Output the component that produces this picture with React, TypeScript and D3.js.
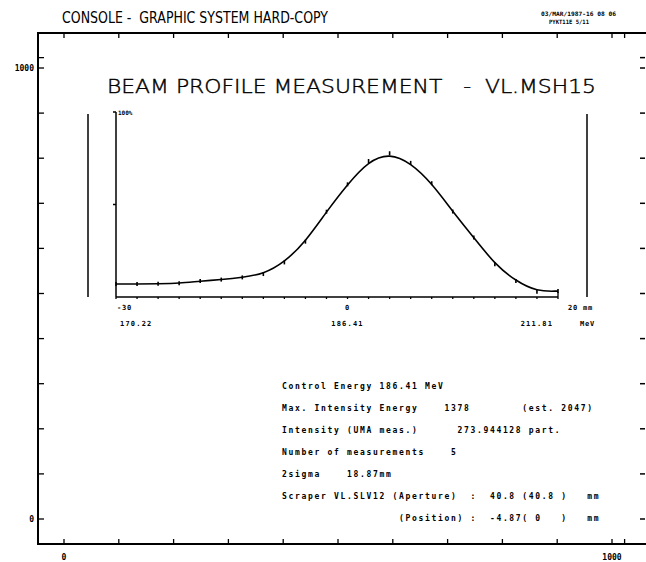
import React from 'react';
import * as d3 from 'd3';

const W = 646;
const H = 562;

// hard-copy raster frame (0..1023 counts)
const frameTicks = [0, 100, 200, 300, 400, 500, 600, 700, 800, 900, 1000, 1023];
const frameLabelValues = [0, 1000];

// beam profile: sample number along the scan, intensity in % of max
const sampleIdx = [0, 1, 2, 3, 4, 5, 6, 7, 8, 9, 10, 11, 12, 13, 14, 15, 16, 17, 18, 19, 20, 21];
const intensityPct = [7.0, 7.0, 7.2, 7.4, 8.6, 9.4, 10.6, 12.4, 18.7, 29.9, 46.1, 60.9, 73.5, 77.7, 72.5, 61.5, 46.2, 32.1, 17.7, 8.6, 2.9, 3.2];
const yTickPct = [50, 100];

const posLabelIdx = [0.4, 11, 21.4];
const posLabelText = ['-30', '0', '20 mm'];
const energyLabelIdx = [0.9, 11, 20];
const energyLabelText = ['170.22', '186.41', '211.81'];

const infoLines = [
  'Control Energy 186.41 MeV',
  'Max. Intensity Energy    1378        (est. 2047)',
  'Intensity (UMA meas.)      273.944128 part.',
  'Number of measurements    5',
  '2sigma    18.87mm',
  'Scraper VL.SLV12 (Aperture)  :  40.8 (40.8 )   mm',
  '                  (Position) :  -4.87( 0   )   mm',
];

const mono = '"DejaVu Sans Mono", monospace';

const App = () => {
  // outer frame scales
  const fx = d3.scaleLinear().domain([0, 1000]).range([64, 612]);
  const fy = d3.scaleLinear().domain([0, 1000]).range([519, 68]);
  const frame = { left: 38, top: 33, bottom: 544, right: W };

  // inner profile plot
  const x = d3.scaleLinear().domain([0, 21]).range([116, 558]);
  const y = d3.scaleLinear().domain([0, 100]).range([297, 112]);

  const pts: [number, number][] = sampleIdx.map((s, i) => [s, intensityPct[i]]);
  const line = d3.line<[number, number]>()
    .x(d => x(d[0]))
    .y(d => y(d[1]))
    .curve(d3.curveBasis);

  return (
    <svg width={W} height={H} style={{ position: 'absolute', left: 0, top: 0, background: '#fff' }}>
      {/* header */}
      <text x={62} y={23} fontFamily='"DejaVu Sans", sans-serif' fontSize={15}
        textLength={266} lengthAdjust="spacingAndGlyphs" style={{ whiteSpace: 'pre' }}>
        CONSOLE -  GRAPHIC SYSTEM HARD-COPY
      </text>
      <text x={541} y={16} fontFamily={mono} fontWeight="bold" fontSize={6}
        textLength={75} lengthAdjust="spacingAndGlyphs">03/MAR/1987-16 08 06</text>
      <text x={549} y={24} fontFamily={mono} fontWeight="bold" fontSize={6}
        textLength={40} lengthAdjust="spacingAndGlyphs">PYKT11E 5/11</text>

      {/* frame */}
      <path d={`M ${frame.right} ${frame.top} H ${frame.left} V ${frame.bottom} H ${frame.right}`}
        fill="none" stroke="#000" strokeWidth={2} />
      {frameTicks.map(v => (
        <g key={'fx' + v}>
          <line x1={fx(v)} x2={fx(v)} y1={frame.top} y2={frame.top + 5} stroke="#000" strokeWidth={1.3} />
          <line x1={fx(v)} x2={fx(v)} y1={frame.bottom} y2={frame.bottom - 5} stroke="#000" strokeWidth={1.3} />
        </g>
      ))}
      {frameTicks.map(v => (
        <g key={'fy' + v}>
          <line x1={frame.left} x2={frame.left + 6} y1={fy(v)} y2={fy(v)} stroke="#000" strokeWidth={1.3} />
          <line x1={W - 6} x2={W - 1} y1={fy(v)} y2={fy(v)} stroke="#000" strokeWidth={1.5} />
        </g>
      ))}
      {frameLabelValues.map(v => (
        <text key={'ly' + v} x={frame.left - 4} y={fy(v) + 3} textAnchor="end"
          fontFamily={mono} fontWeight="bold" fontSize={8}>{v}</text>
      ))}
      {frameLabelValues.map(v => (
        <text key={'lx' + v} x={fx(v)} y={560} textAnchor="middle"
          fontFamily={mono} fontWeight="bold" fontSize={8}>{v}</text>
      ))}

      {/* title */}
      <text x={107} y={93} fontFamily='"DejaVu Sans", sans-serif' fontWeight={200} fontSize={20}
        stroke="#000" strokeWidth={0.45} fill="#000"
        textLength={489} lengthAdjust="spacingAndGlyphs" style={{ whiteSpace: 'pre' }}>
        BEAM PROFILE MEASUREMENT   -  VL.MSH15
      </text>

      {/* side bars */}
      <line x1={88} x2={88} y1={114} y2={297} stroke="#000" strokeWidth={1.5} />
      <line x1={587} x2={587} y1={114} y2={297} stroke="#000" strokeWidth={1.5} />

      {/* inner axes */}
      <line x1={x(0)} x2={x(0)} y1={y(100)} y2={y(0)} stroke="#000" strokeWidth={1.5} />
      <line x1={x(0)} x2={x(21)} y1={y(0)} y2={y(0)} stroke="#000" strokeWidth={1.5} />
      <line x1={x(21)} x2={x(21)} y1={y(0)} y2={y(0) - 5} stroke="#000" strokeWidth={1.3} />
      {yTickPct.map(v => (
        <line key={'yt' + v} x1={x(0) - 3} x2={x(0)} y1={y(v)} y2={y(v)} stroke="#000" strokeWidth={1.5} />
      ))}
      <text x={x(0) + 2} y={y(100) + 3} fontFamily={mono} fontWeight="bold" fontSize={6}>100%</text>
      {sampleIdx.map(s => (
        <line key={'xt' + s} x1={x(s)} x2={x(s)} y1={y(0)} y2={y(0) + 2} stroke="#000" strokeWidth={1.3} />
      ))}
      {posLabelIdx.map((s, i) => (
        <text key={'pl' + i} x={x(s)} y={310} textAnchor={i === 2 ? 'start' : 'middle'}
          fontFamily={mono} fontWeight="bold" fontSize={7} letterSpacing={0.8}
          dx={i === 2 ? -x(s) + x(21) + 10 : 0}>{posLabelText[i]}</text>
      ))}
      {energyLabelIdx.map((s, i) => (
        <text key={'el' + i} x={x(s)} y={326} textAnchor={i === 0 ? 'start' : 'middle'}
          dx={i === 0 ? 4 - (x(s) - x(0)) : 0}
          fontFamily={mono} fontWeight="bold" fontSize={7} letterSpacing={1.2}>{energyLabelText[i]}</text>
      ))}
      <text x={580} y={326} fontFamily={mono} fontWeight="bold" fontSize={7} letterSpacing={0.8}>MeV</text>

      {/* profile */}
      <path d={line(pts) || ''} fill="none" stroke="#000" strokeWidth={1.6} />
      {pts.map(([s, v]) => (
        <line key={'m' + s} x1={x(s)} x2={x(s)} y1={y(v) - 2} y2={y(v) + 2} stroke="#000" strokeWidth={1.6} />
      ))}

      {/* info block */}
      {infoLines.map((t, i) => (
        <text key={'info' + i} x={282} y={389 + i * 22} fontFamily={mono} fontWeight="bold"
          fontSize={8} letterSpacing={1.68} style={{ whiteSpace: 'pre' }}>{t}</text>
      ))}
    </svg>
  );
};

export default App;
